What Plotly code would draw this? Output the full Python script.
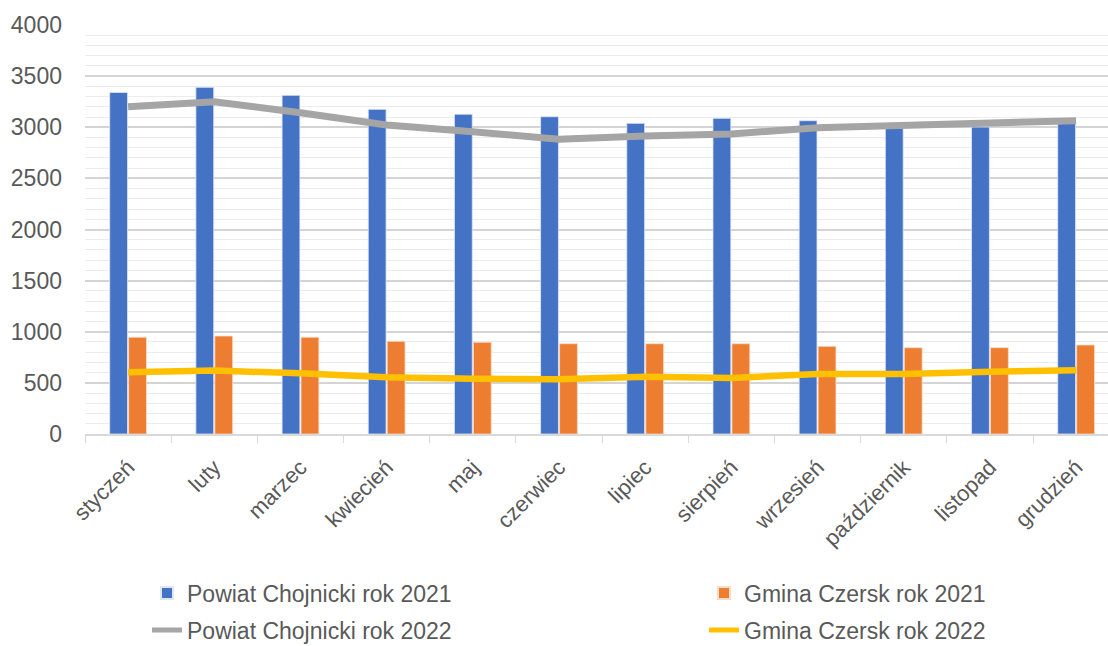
import plotly.graph_objects as go

months = ["styczeń", "luty", "marzec", "kwiecień", "maj", "czerwiec", "lipiec",
          "sierpień", "wrzesień", "październik", "listopad", "grudzień"]
powiat_2021 = [3340, 3390, 3312, 3175, 3127, 3103, 3038, 3087, 3064, 2990, 3002, 3040]
gmina_2021 = [946, 958, 946, 906, 897, 883, 883, 883, 857, 844, 844, 870]
powiat_2022 = [3201, 3250, 3142, 3022, 2957, 2882, 2914, 2934, 2996, 3022, 3051, 3064]
gmina_2022 = [603, 620, 594, 555, 541, 535, 561, 548, 587, 587, 609, 623]

FONT = "Liberation Sans, Arial, sans-serif"
TXT = "#595959"

fig = go.Figure()
fig.add_trace(go.Bar(x=months, y=powiat_2021, name="Powiat Chojnicki rok 2021",
                     marker=dict(color="#4472C4", line=dict(color="#dfe6f5", width=0.8)),
                     legend="legend", showlegend=True))
fig.add_trace(go.Bar(x=months, y=gmina_2021, name="Gmina Czersk rok 2021",
                     marker=dict(color="#ED7D31", line=dict(color="#f8dcc8", width=0.8)),
                     legend="legend2", showlegend=True))
fig.add_trace(go.Scatter(x=months, y=powiat_2022, name="Powiat Chojnicki rok 2022",
                         mode="lines", line=dict(color="#A5A5A5", width=7),
                         legend="legend3", showlegend=True))
fig.add_trace(go.Scatter(x=months, y=gmina_2022, name="Gmina Czersk rok 2022",
                         mode="lines", line=dict(color="#FFC000", width=6.5),
                         legend="legend4", showlegend=True))

leg_common = dict(orientation="h", xref="container", yref="container",
                  xanchor="left", yanchor="middle",
                  font=dict(family=FONT, size=23, color=TXT),
                  bgcolor="rgba(0,0,0,0)", itemsizing="constant")

fig.update_layout(
    width=1108, height=646, showlegend=True,
    paper_bgcolor="white", plot_bgcolor="white",
    margin=dict(l=85, r=0, t=25, b=212, autoexpand=False),
    barmode="group", bargap=0.56, bargroupgap=0.06,
    font=dict(family=FONT, color=TXT),
    legend=dict(x=147 / 1108, y=1 - 593 / 646, **leg_common),
    legend2=dict(x=704 / 1108, y=1 - 593 / 646, **leg_common),
    legend3=dict(x=147 / 1108, y=1 - 630 / 646, **leg_common),
    legend4=dict(x=704 / 1108, y=1 - 630 / 646, **leg_common),
    xaxis=dict(
        range=[-0.5, 11.37], showgrid=False, automargin=False,
        showline=True, linecolor="#d9d9d9", linewidth=1.5,
        ticks="outside", tickson="boundaries", ticklen=7, tickcolor="#d9d9d9",
        tickangle=-45, tickfont=dict(family=FONT, size=22, color=TXT),
        ticklabelstandoff=10,
    ),
    yaxis=dict(
        range=[0, 4000], dtick=500, tick0=0, automargin=False,
        showgrid=True, gridcolor="#d4d4d4", gridwidth=1.5,
        minor=dict(dtick=100, showgrid=True, gridcolor="#ececec", gridwidth=1),
        zeroline=False, showline=False,
        tickfont=dict(family=FONT, size=23, color=TXT),
        ticklabelstandoff=22,
    ),
)

fig.write_html("out.html", config={"displayModeBar": False},
               post_script="document.body.style.margin='0';document.body.style.padding='0';")
